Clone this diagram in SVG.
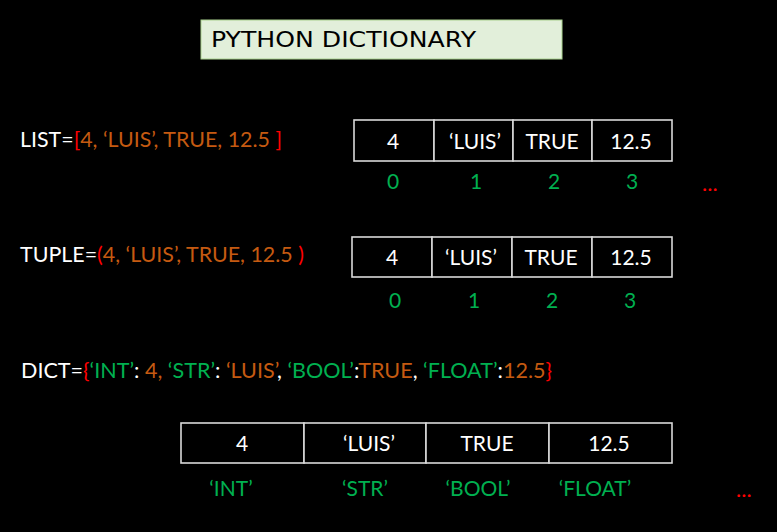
<svg xmlns="http://www.w3.org/2000/svg" width="777" height="532" viewBox="0 0 777 532">
<style>
text{font-family:Lato,"Open Sans","Liberation Sans",sans-serif;font-size:21px;fill:#ffffff}
.c{text-anchor:middle}
.o{fill:#c55a11}
.r{fill:#ff0000}
.g{fill:#00b050}
.w{fill:#ffffff}
.cell{fill:#000000;stroke:#d9d9d9;stroke-width:1.6}
.dots{fill:#ff0000;font-size:22px}
</style>
<rect width="777" height="532" fill="#000000"/>
<g id="title">
<rect x="201" y="20" width="361" height="39" fill="#e2efda" stroke="#a9d18e" stroke-width="1"/>
<text x="211" y="47" style="fill:#000;font-family:'DejaVu Sans',sans-serif;font-size:21px" textLength="265" lengthAdjust="spacingAndGlyphs">PYTHON DICTIONARY</text>
</g>
<g id="list-def">
<text x="20" y="147" textLength="262" lengthAdjust="spacingAndGlyphs">LIST=<tspan class="r">[</tspan><tspan class="o">4, ‘LUIS’, TRUE, 12.5 </tspan><tspan class="r">]</tspan></text>
</g>
<g id="list-table">
<rect class="cell" x="354" y="120" width="80" height="41"/>
<rect class="cell" x="434" y="120" width="79" height="41"/>
<rect class="cell" x="513" y="120" width="79" height="41"/>
<rect class="cell" x="592" y="120" width="80" height="41"/>
<text class="c" x="393" y="149">4</text>
<text class="c" x="475" y="149">‘LUIS’</text>
<text class="c" x="552" y="149">TRUE</text>
<text class="c" x="631" y="149">12.5</text>
<text class="c g" x="393" y="189">0</text>
<text class="c g" x="476" y="189">1</text>
<text class="c g" x="554" y="189">2</text>
<text class="c g" x="632" y="189">3</text>
<text class="dots" x="702" y="191">...</text>
</g>
<g id="tuple-def">
<text x="20" y="262" textLength="284" lengthAdjust="spacingAndGlyphs">TUPLE=<tspan class="r">(</tspan><tspan class="o">4, ‘LUIS’, TRUE, 12.5 </tspan><tspan class="r">)</tspan></text>
</g>
<g id="tuple-table">
<rect class="cell" x="352" y="237" width="80" height="40"/>
<rect class="cell" x="432" y="237" width="80" height="40"/>
<rect class="cell" x="512" y="237" width="80" height="40"/>
<rect class="cell" x="592" y="237" width="80" height="40"/>
<text class="c" x="392" y="265">4</text>
<text class="c" x="471" y="265">‘LUIS’</text>
<text class="c" x="551" y="265">TRUE</text>
<text class="c" x="631" y="265">12.5</text>
<text class="c g" x="395" y="308">0</text>
<text class="c g" x="474" y="308">1</text>
<text class="c g" x="552" y="308">2</text>
<text class="c g" x="630" y="308">3</text>
</g>
<g id="dict-def">
<text x="21" y="378" textLength="531" lengthAdjust="spacingAndGlyphs">DICT=<tspan class="r">{</tspan><tspan class="g">‘INT’</tspan>: <tspan class="o">4,</tspan> <tspan class="g">‘STR’</tspan>: <tspan class="o">‘LUIS’</tspan>, <tspan class="g">‘BOOL’</tspan>:<tspan class="o">TRUE</tspan>, <tspan class="g">‘FLOAT’</tspan>:<tspan class="o">12.5</tspan><tspan class="r">}</tspan></text>
</g>
<g id="dict-table">
<rect class="cell" x="181" y="423" width="123" height="40"/>
<rect class="cell" x="304" y="423" width="122" height="40"/>
<rect class="cell" x="426" y="423" width="123" height="40"/>
<rect class="cell" x="549" y="423" width="123" height="40"/>
<text class="c" x="242" y="451">4</text>
<text class="c" x="369" y="451">‘LUIS’</text>
<text class="c" x="487" y="451">TRUE</text>
<text class="c" x="609" y="451">12.5</text>
<text class="c g" x="231" y="496">‘INT’</text>
<text class="c g" x="365" y="496">‘STR’</text>
<text class="c g" x="478" y="496">‘BOOL’</text>
<text class="c g" x="595" y="496">‘FLOAT’</text>
<text class="dots" x="736" y="497">...</text>
</g>
</svg>
